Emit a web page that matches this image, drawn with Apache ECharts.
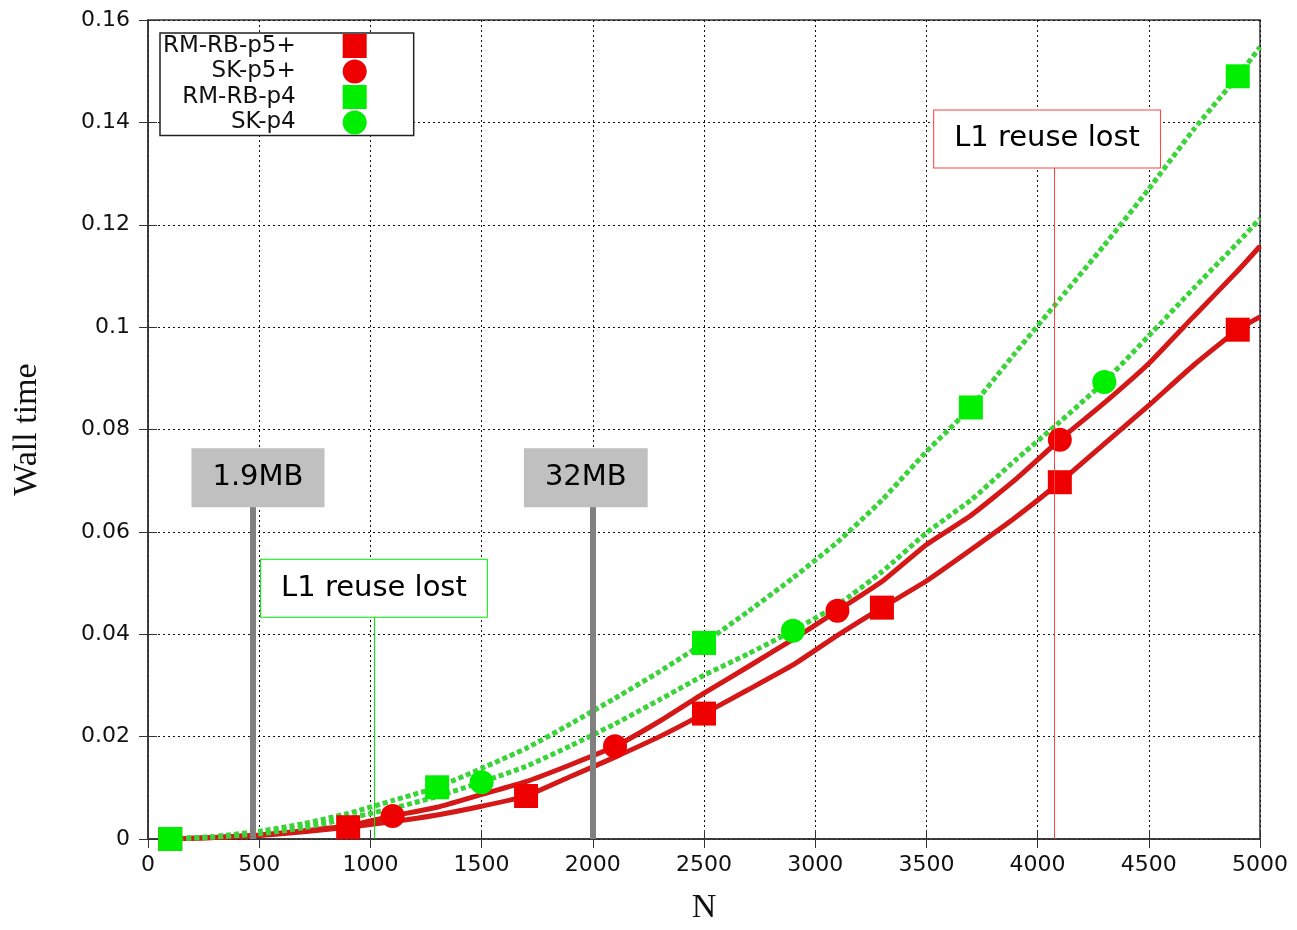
<!DOCTYPE html>
<html>
<head>
<meta charset="utf-8">
<script src="https://cdn.jsdelivr.net/npm/echarts@6/dist/echarts.min.js"></script>
<style>
  html, body { margin: 0; padding: 0; background: #fff; }
  #chart { width: 1297px; height: 930px; }
</style>
</head>
<body>
<div id="chart"></div>
<script>
// N 取样点（所有曲线共用）
var nValues = [100, 300, 500, 700, 900, 1100, 1300, 1500, 1700, 1900, 2100, 2300, 2500,
  2700, 2900, 3100, 3300, 3500, 3700, 3900, 4100, 4300, 4500, 4700, 4900, 5000];

// Wall time
var rmrbP5 = [0, 0.0003, 0.0007, 0.0014, 0.0023, 0.0034, 0.0047, 0.0064, 0.0084, 0.0122, 0.0160, 0.0200, 0.0245,
  0.0292, 0.0340, 0.0398, 0.0452, 0.0504, 0.0565, 0.0628, 0.0697, 0.0772, 0.0847, 0.0925, 0.0995, 0.1020];
var skP5 = [0, 0.0003, 0.0008, 0.0016, 0.0026, 0.0045, 0.0062, 0.0087, 0.0112, 0.0145, 0.0181, 0.0230, 0.0285,
  0.0337, 0.0390, 0.0446, 0.0503, 0.0575, 0.0632, 0.0702, 0.0780, 0.0852, 0.0929, 0.1020, 0.1110, 0.1158];
var rmrbP4 = [0, 0.0005, 0.0015, 0.0030, 0.0050, 0.0075, 0.0101, 0.0138, 0.0177, 0.0225, 0.0275, 0.0327, 0.0383,
  0.0445, 0.0510, 0.0580, 0.0662, 0.0757, 0.0843, 0.0950, 0.1055, 0.1160, 0.1270, 0.1385, 0.1490, 0.1547];
var skP4 = [0, 0.0004, 0.0010, 0.0022, 0.0040, 0.0060, 0.0083, 0.0111, 0.0142, 0.0182, 0.0225, 0.0272, 0.0320,
  0.0362, 0.0407, 0.0457, 0.0522, 0.0598, 0.0662, 0.0740, 0.0815, 0.0893, 0.0983, 0.1075, 0.1165, 0.1212];

// 哪些点画标记
var rmrbP5Marks = [100, 900, 1700, 2500, 3300, 4100, 4900];
var skP5Marks = [100, 1100, 2100, 3100, 4100];
var rmrbP4Marks = [100, 1300, 2500, 3700, 4900];
var skP4Marks = [100, 1500, 2900, 4300];

// 标注线
var annoN = [472, 2000, 1016, 4074];
var annoTop = [0.065, 0.065, 0.0434, 0.1312];
var annoText = ['1.9MB', '32MB', 'L1 reuse lost', 'L1 reuse lost'];

var FONT = 'DejaVu Sans';

function buildData(vals, marks) {
  var out = [];
  for (var i = 0; i < nValues.length; i++) {
    var item = { value: [nValues[i], vals[i]] };
    if (marks.indexOf(nValues[i]) < 0) item.symbol = 'none';
    out.push(item);
  }
  return out;
}

function makeSeries(name, vals, marks, symbol, markColor, lineColor, dashed) {
  return {
    name: name,
    type: 'line',
    data: buildData(vals, marks),
    symbol: symbol,
    symbolSize: 24,
    showAllSymbol: true,
    smooth: 0.15,
    animation: false,
    itemStyle: { color: markColor },
    lineStyle: {
      color: lineColor,
      width: 5,
      type: dashed ? [5, 3] : 'solid'
    }
  };
}

var annoStyles = [
  { line: '#808080', width: 6, bg: '#c0c0c0', border: '#c0c0c0', dx: 5 },
  { line: '#808080', width: 6, bg: '#c0c0c0', border: '#c0c0c0', dx: -7 },
  { line: '#00ee00', width: 1, bg: '#fff', border: '#00ee00', dx: 0 },
  { line: '#ff4040', width: 1, bg: '#fff', border: '#ff4040', dx: -7 }
];

var markData = [];
for (var k = 0; k < annoN.length; k++) {
  var st = annoStyles[k];
  markData.push([
    {
      coord: [annoN[k], 0],
      lineStyle: { color: st.line, width: st.width, type: 'solid' },
      label: {
        show: true,
        position: 'end',
        distance: 0,
        offset: [st.dx, 0],
        formatter: annoText[k],
        fontFamily: FONT,
        fontSize: 29,
        color: '#000',
        backgroundColor: st.bg,
        borderColor: st.border,
        borderWidth: 1,
        padding: [14, 20, 14, 20]
      }
    },
    { coord: [annoN[k], annoTop[k]] }
  ]);
}

var chart = echarts.init(document.getElementById('chart'));

chart.setOption({
  backgroundColor: '#fff',
  animation: false,
  grid: {
    left: 148, top: 20, width: 1112, height: 822,
    show: true, borderColor: '#333', borderWidth: 1.5
  },
  legend: {
    left: 160, top: 33,
    orient: 'vertical',
    align: 'right',
    itemWidth: 24, itemHeight: 24, itemGap: 1.5,
    borderColor: '#222', borderWidth: 1.5,
    padding: [1, 47, 1, 3],
    backgroundColor: '#fff',
    formatter: '{a|{name}}',
    textStyle: {
      fontFamily: FONT, fontSize: 23, color: '#111',
      rich: { a: { width: 132, align: 'right', padding: [0, 42, 0, 0], fontFamily: FONT, fontSize: 23 } }
    },
    data: [
      { name: 'RM-RB-p5+', icon: 'rect' },
      { name: 'SK-p5+', icon: 'circle' },
      { name: 'RM-RB-p4', icon: 'rect' },
      { name: 'SK-p4', icon: 'circle' }
    ]
  },
  xAxis: [{
    type: 'value', min: 0, max: 5000, interval: 500,
    name: 'N', nameLocation: 'middle', nameGap: 52,
    nameTextStyle: { fontFamily: 'Liberation Serif', fontSize: 34, color: '#111' },
    axisLine: { show: true, lineStyle: { color: '#333', width: 1.5 } },
    axisTick: { show: true, inside: true, length: 9, lineStyle: { color: '#333' } },
    axisLabel: {
      margin: 15, fontFamily: FONT, fontSize: 22, color: '#111',
      formatter: function (v) { return String(v); }
    },
    splitLine: { show: true, lineStyle: { color: '#111', width: 1, type: [2, 3] } }
  }, {
    type: 'value', min: 0, max: 5000, interval: 500, position: 'top',
    axisLine: { show: false },
    axisTick: { show: true, inside: true, length: 9, lineStyle: { color: '#333' } },
    axisLabel: { show: false },
    splitLine: { show: false }
  }],
  yAxis: [{
    type: 'value', min: 0, max: 0.16, interval: 0.02,
    name: 'Wall time', nameLocation: 'middle', nameGap: 104,
    nameTextStyle: { fontFamily: 'Liberation Serif', fontSize: 34, color: '#111' },
    axisLine: { show: true, lineStyle: { color: '#333', width: 1.5 } },
    axisTick: { show: true, inside: true, length: 9, lineStyle: { color: '#333' } },
    axisLabel: { margin: 18, fontFamily: FONT, fontSize: 22, color: '#111' },
    splitLine: { show: true, lineStyle: { color: '#111', width: 1, type: [2, 3] } }
  }, {
    type: 'value', min: 0, max: 0.16, interval: 0.02, position: 'right',
    axisLine: { show: false },
    axisTick: { show: true, inside: true, length: 9, lineStyle: { color: '#333' } },
    axisLabel: { show: false },
    splitLine: { show: false }
  }],
  series: [
    makeSeries('RM-RB-p5+', rmrbP5, rmrbP5Marks, 'rect', '#ee0000', '#d41818', false),
    makeSeries('SK-p5+', skP5, skP5Marks, 'circle', '#ee0000', '#d41818', false),
    makeSeries('RM-RB-p4', rmrbP4, rmrbP4Marks, 'rect', '#00ee00', '#3ad43a', true),
    makeSeries('SK-p4', skP4, skP4Marks, 'circle', '#00ee00', '#3ad43a', true),
    {
      name: 'annotations',
      type: 'line',
      data: [],
      animation: false,
      markLine: {
        silent: true,
        symbol: ['none', 'none'],
        animation: false,
        data: markData
      }
    }
  ]
});
</script>
</body>
</html>
